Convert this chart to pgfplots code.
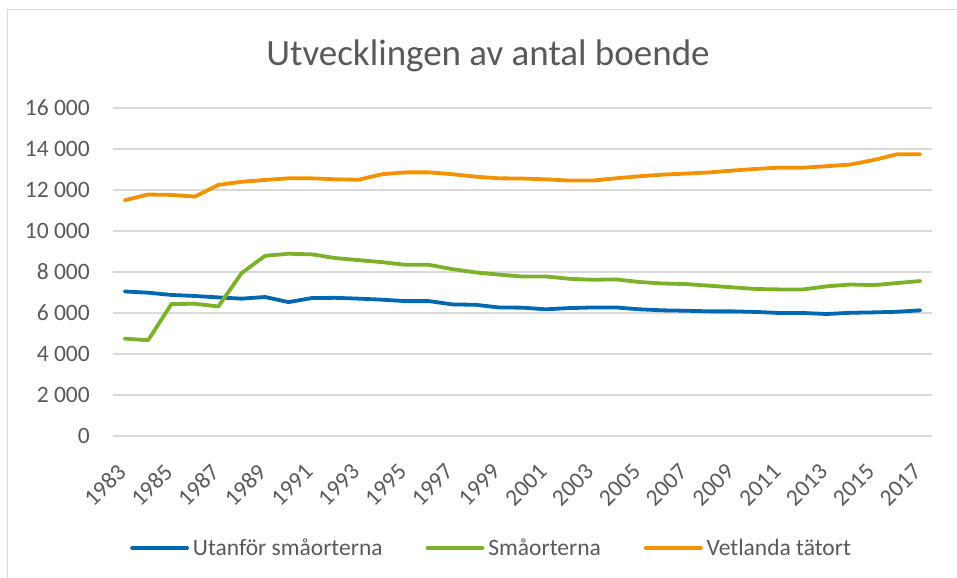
\documentclass[border=0pt]{standalone}
\usepackage{pgfplots}
\pgfplotsset{compat=1.18}
\usepackage{pgfplotstable}
\usepackage{fontspec}
\setmainfont{Carlito}
\definecolor{cblue}{HTML}{0067B1}
\definecolor{cgreen}{HTML}{7DB12A}
\definecolor{corange}{HTML}{F39200}
\definecolor{txtgray}{HTML}{595959}
\definecolor{gridgray}{HTML}{D9D9D9}
\pgfplotstableread{
year utanfor smaorter vetlanda
1983 7050 4750 11500
1984 6990 4670 11780
1985 6880 6440 11760
1986 6830 6450 11680
1987 6760 6320 12250
1988 6700 7950 12400
1989 6780 8790 12490
1990 6530 8890 12570
1991 6730 8860 12570
1992 6740 8680 12520
1993 6700 8580 12500
1994 6650 8480 12770
1995 6580 8350 12860
1996 6580 8350 12860
1997 6420 8140 12770
1998 6400 7980 12650
1999 6270 7870 12570
2000 6260 7780 12560
2001 6180 7780 12520
2002 6240 7670 12460
2003 6270 7620 12460
2004 6270 7640 12570
2005 6180 7510 12670
2006 6130 7440 12750
2007 6110 7410 12800
2008 6080 7330 12860
2009 6080 7250 12950
2010 6050 7170 13030
2011 6000 7150 13090
2012 6000 7150 13090
2013 5950 7300 13160
2014 6010 7390 13240
2015 6030 7360 13460
2016 6060 7460 13740
2017 6130 7560 13740
}\datatable
\begin{document}
\begin{tikzpicture}
\useasboundingbox (0,0) rectangle (957bp,578bp);
\draw[gridgray, line width=1.5bp] (7.5bp,0) -- (7.5bp,568.5bp) -- (957bp,568.5bp);
\node[anchor=base, text=txtgray, font=\fontsize{37bp}{44bp}\selectfont] at (488bp,512bp) {Utvecklingen av antal boende};
\begin{axis}[
  at={(113bp,142bp)}, anchor=south west,
  scale only axis, width=819bp, height=328bp,
  xmin=1982.5, xmax=2017.5, ymin=0, ymax=16000,
  scaled ticks=false,
  axis line style={draw=none},
  axis x line*=bottom,
  axis y line*=left,
  tick style={draw=none},
  ymajorgrids, grid style={gridgray, line width=1.1bp},
  ytick={0,2000,4000,6000,8000,10000,12000,14000,16000},
  yticklabels={0,2 000,4 000,6 000,8 000,10 000,12 000,14 000,16 000},
  xtick={1983,1985,1987,1989,1991,1993,1995,1997,1999,2001,2003,2005,2007,2009,2011,2013,2015,2017},
  xticklabels={1983,1985,1987,1989,1991,1993,1995,1997,1999,2001,2003,2005,2007,2009,2011,2013,2015,2017},
  ticklabel style={text=txtgray, font=\fontsize{23.5bp}{28bp}\selectfont, inner sep=0pt},
  yticklabel style={anchor=east, xshift=-23bp},
  xticklabel style={anchor=east, yshift=-32bp, xshift=-3bp, rotate=45},
  legend columns=3,
  legend style={at={(0.461,-0.3415)}, anchor=center, draw=none, fill=none,
    font=\fontsize{23.5bp}{28bp}\selectfont, text=txtgray,
    nodes={inner sep=0pt},
    /tikz/every even column/.append style={column sep=43bp},
    /tikz/every odd column/.append style={column sep=4bp}},
  legend image code/.code={\draw[#1, line cap=round] (0bp,0bp) -- (55bp,0bp);},
  every axis plot/.append style={line width=3.8bp, line join=round, line cap=round},
  clip=false,
]
\draw[gridgray, line width=1.1bp] (axis cs:1982.5,0) -- (axis cs:2017.5,0);
\addplot[cblue] table[x=year, y=utanfor] {\datatable};
\addlegendentry{Utanför småorterna}
\addplot[cgreen] table[x=year, y=smaorter] {\datatable};
\addlegendentry{Småorterna}
\addplot[corange] table[x=year, y=vetlanda] {\datatable};
\addlegendentry{Vetlanda tätort}
\end{axis}
\end{tikzpicture}
\end{document}
